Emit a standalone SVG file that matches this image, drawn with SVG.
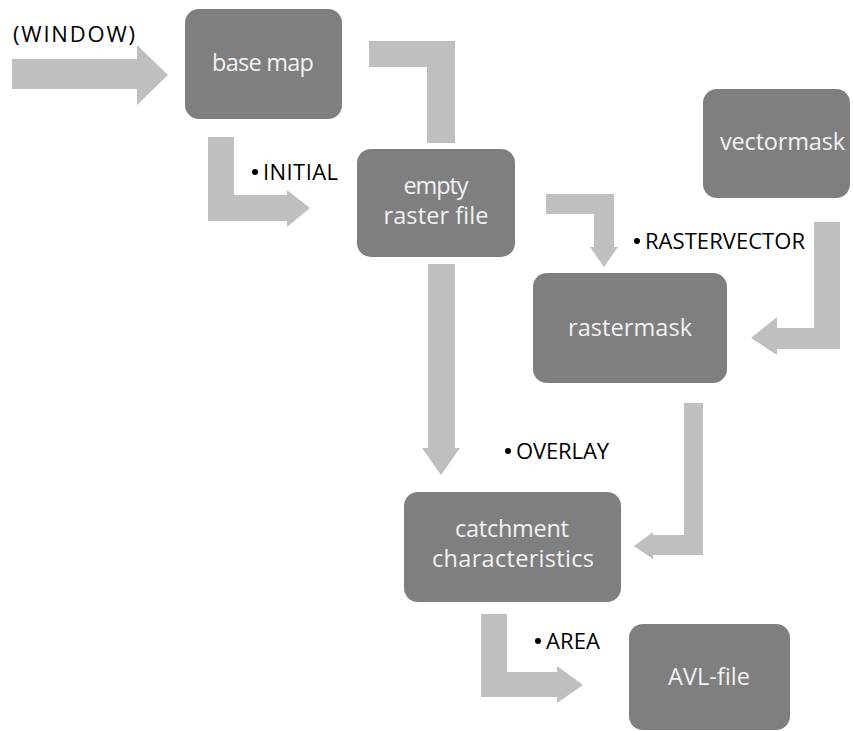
<svg xmlns="http://www.w3.org/2000/svg" width="853" height="731" viewBox="0 0 853 731">
<style>
.node{fill:#7f7f7f}
.nt{fill:#f2f2f2;font-family:"Open Sans","Liberation Sans",sans-serif;font-size:23.5px;text-anchor:middle}
.arr{fill:#bfbfbf}
.lb{fill:#000;font-family:"Open Sans","Liberation Sans",sans-serif;font-size:22px}
</style>
<rect width="853" height="731" fill="#fff"/>
<g id="connectors">
<polygon class="arr" points="12,59 137,59 137,45 168,75 137,105 137,89 12,89"/>
<polygon class="arr" points="208,137 234,137 234,195 287,195 287,190 310,208 287,227 287,221 208,221"/>
<polygon class="arr" points="369,41 455,41 455,143 427,143 427,67 369,67"/>
<polygon class="arr" points="546,194 614,194 614,247 618,247 604,267 590,247 594,247 594,214 546,214"/>
<polygon class="arr" points="814,222 840,222 840,349 777,349 777,355 751,338 777,317 777,328 814,328"/>
<polygon class="arr" points="428,264 455,264 455,448 460,448 441,475 422,448 428,448"/>
<polygon class="arr" points="684,403 703,403 703,555 653,555 653,559 634,546 653,532 653,535 684,535"/>
<polygon class="arr" points="481,614 507,614 507,672 557,672 557,666 583,685 557,703 557,697 481,697"/>
</g>
<g id="base-map">
<rect class="node" x="185" y="9" width="157" height="110" rx="14"/>
<text class="nt" x="263" y="71" textLength="102">base map</text>
</g>
<g id="empty-raster-file">
<rect class="node" x="357" y="149" width="158" height="108" rx="14"/>
<text class="nt" x="436" y="194" textLength="65">empty</text>
<text class="nt" x="436" y="224" textLength="105">raster file</text>
</g>
<g id="vectormask">
<rect class="node" x="703" y="89" width="147" height="109" rx="14"/>
<text class="nt" x="782.5" y="150" textLength="125">vectormask</text>
</g>
<g id="rastermask">
<rect class="node" x="533" y="273" width="194" height="110" rx="14"/>
<text class="nt" x="630" y="336" textLength="124">rastermask</text>
</g>
<g id="catchment-characteristics">
<rect class="node" x="404" y="492" width="217" height="110" rx="14"/>
<text class="nt" x="512" y="537" textLength="114">catchment</text>
<text class="nt" x="513" y="567" textLength="162">characteristics</text>
</g>
<g id="avl-file">
<rect class="node" x="629" y="624" width="161" height="106" rx="14"/>
<text class="nt" x="709" y="685" textLength="82">AVL-file</text>
</g>
<g id="labels">
<text class="lb" x="13" y="42" textLength="122">(WINDOW)</text>
<circle cx="255" cy="172" r="3"/>
<text class="lb" x="263" y="180" textLength="75">INITIAL</text>
<circle cx="637" cy="241" r="3"/>
<text class="lb" x="645" y="249" textLength="160">RASTERVECTOR</text>
<circle cx="508" cy="451" r="3"/>
<text class="lb" x="516" y="459" textLength="93">OVERLAY</text>
<circle cx="538" cy="641" r="3"/>
<text class="lb" x="546" y="649" textLength="54">AREA</text>
</g>
</svg>
